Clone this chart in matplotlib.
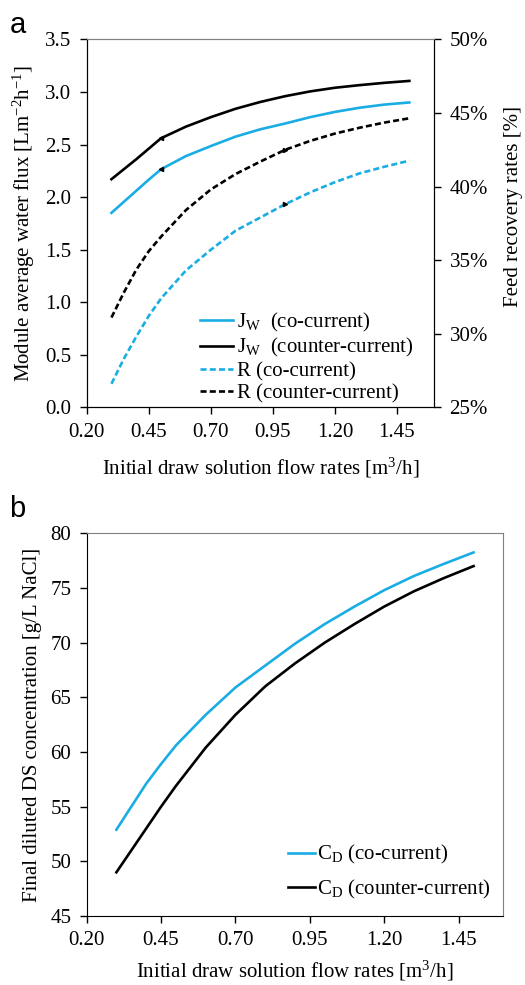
import numpy as np
import matplotlib
matplotlib.use("Agg")
import matplotlib.pyplot as plt
from matplotlib.ticker import FuncFormatter

plt.rcParams['font.family'] = ['Liberation Serif', 'DejaVu Serif']
plt.rcParams['mathtext.fontset'] = 'custom'
plt.rcParams['mathtext.rm'] = 'Liberation Serif'
plt.rcParams['mathtext.it'] = 'Liberation Serif:italic'

# ---- panel a data ----
flow = [0.3, 0.35, 0.4, 0.45, 0.5, 0.6, 0.7, 0.8, 0.9, 1.0, 1.1, 1.2, 1.3, 1.4, 1.5]
jw_co = [1.85, 1.955, 2.06, 2.165, 2.265, 2.39, 2.485, 2.575, 2.645, 2.70, 2.76, 2.81, 2.85, 2.88, 2.90]
jw_counter = [2.17, 2.265, 2.36, 2.46, 2.56, 2.67, 2.76, 2.84, 2.905, 2.96, 3.005, 3.04, 3.065, 3.087, 3.105]
r_co = [26.6, 28.3, 29.8, 31.2, 32.4, 34.3, 35.7, 37.0, 37.9, 38.8, 39.6, 40.3, 40.9, 41.35, 41.76]
r_counter = [31.1, 32.8, 34.35, 35.6, 36.6, 38.4, 39.8, 40.85, 41.7, 42.5, 43.1, 43.6, 44.0, 44.35, 44.64]

# ---- panel b data ----
flow_b = [0.3, 0.35, 0.4, 0.45, 0.5, 0.6, 0.7, 0.8, 0.9, 1.0, 1.1, 1.2, 1.3, 1.4, 1.5]
cd_co = [52.9, 55.0, 57.1, 58.9, 60.6, 63.4, 65.9, 67.9, 69.9, 71.7, 73.3, 74.8, 76.1, 77.2, 78.25]
cd_counter = [49.0, 51.0, 53.0, 55.0, 56.9, 60.4, 63.4, 66.0, 68.1, 70.0, 71.7, 73.3, 74.7, 75.9, 77.0]

xticks = [0.20, 0.45, 0.70, 0.95, 1.20, 1.45]
blue = '#1AADE4'
lw = 1.9
dash = (0, (2.3, 1.2))
tick_fs = 15
lab_fs = 15
leg_fs = 15

fig = plt.figure(figsize=(5.25, 9.85), dpi=100)

def style_x(ax, pad):
    ax.set_xlim(0.2, 1.6)
    ax.set_xticks(xticks)
    ax.set_xticklabels(['%.2f' % t for t in xticks])
    ax.tick_params(direction='out', length=5, width=1, labelsize=tick_fs, pad=6)
    ax.set_xlabel('Initial draw solution flow rates [m$^3$/h]', fontsize=lab_fs, labelpad=pad)

# ---------- panel a ----------
ax1 = fig.add_axes([0.165, 0.5865, 0.662, 0.3735])
ax1.plot(flow, jw_co, color=blue, lw=lw, label=r'J$_{\rm W}$  (co-current)')
ax1.plot(flow, jw_counter, color='black', lw=lw, label=r'J$_{\rm W}$  (counter-current)')
# little point marks seen on the curves
ax1.plot(flow, jw_co, ls='none', marker='<', ms=3, color='black', markevery=[4])
ax1.plot(flow, jw_counter, ls='none', marker='<', ms=3, color='black', markevery=[4])
ax1.set_ylim(0, 3.5)
ax1.set_yticks(np.arange(0, 3.51, 0.5))
ax1.yaxis.set_major_formatter(FuncFormatter(lambda v, p: '%.1f' % v))
ax1.set_ylabel('Module average water flux [Lm$^{-2}$h$^{-1}$]', fontsize=lab_fs, labelpad=6)
style_x(ax1, 10)
ax1.spines['top'].set_color('#808080')

ax2 = ax1.twinx()
ax2.plot(flow, r_co, color=blue, lw=lw, ls=dash, label='R (co-current)')
ax2.plot(flow, r_counter, color='black', lw=lw, ls=dash, label='R (counter-current)')
ax2.plot(flow, r_co, ls='none', marker='>', ms=3, color='black', markevery=[9])
ax2.plot(flow, r_counter, ls='none', marker='>', ms=3, color='black', markevery=[9])
ax2.set_ylim(25, 50)
ax2.set_yticks(np.arange(25, 51, 5))
ax2.yaxis.set_major_formatter(FuncFormatter(lambda v, p: '%d%%' % v))
ax2.tick_params(direction='out', length=5, width=1, labelsize=tick_fs, pad=6)
ax2.set_ylabel('Feed recovery rates [%]', fontsize=lab_fs)
ax2.yaxis.set_label_coords(1.2, 0.547)
ax2.spines['top'].set_color('#808080')

h1, l1 = ax1.get_legend_handles_labels()
h2, l2 = ax2.get_legend_handles_labels()
ax2.legend(h1 + h2, l1 + l2, loc='upper left', bbox_to_anchor=(0.326, 0.262),
           frameon=False, fontsize=leg_fs, handlelength=1.6, handletextpad=0.2,
           labelspacing=0.12, borderpad=0, borderaxespad=0)

fig.text(0.018, 0.975, 'a', fontsize=21, family='Liberation Sans', va='center')

# ---------- panel b ----------
ax3 = fig.add_axes([0.165, 0.070, 0.7937, 0.3886])
ax3.plot(flow_b, cd_co, color=blue, lw=lw, label='C$_{\\rm D}$ (co-current)')
ax3.plot(flow_b, cd_counter, color='black', lw=lw, label='C$_{\\rm D}$ (counter-current)')
ax3.set_ylim(45, 80)
ax3.set_yticks(np.arange(45, 81, 5))
ax3.set_ylabel('Final diluted DS concentration [g/L NaCl]', fontsize=lab_fs, labelpad=6)
style_x(ax3, 6)
for s in ['top', 'right']:
    ax3.spines[s].set_color('#808080')
ax3.legend(loc='upper left', bbox_to_anchor=(0.483, 0.19), frameon=False,
           fontsize=leg_fs, handlelength=1.3, handletextpad=0.1, labelspacing=0.55,
           borderpad=0, borderaxespad=0)

fig.text(0.018, 0.483, 'b', fontsize=21, family='Liberation Sans', va='center')

fig.savefig('out.png', dpi=100)
